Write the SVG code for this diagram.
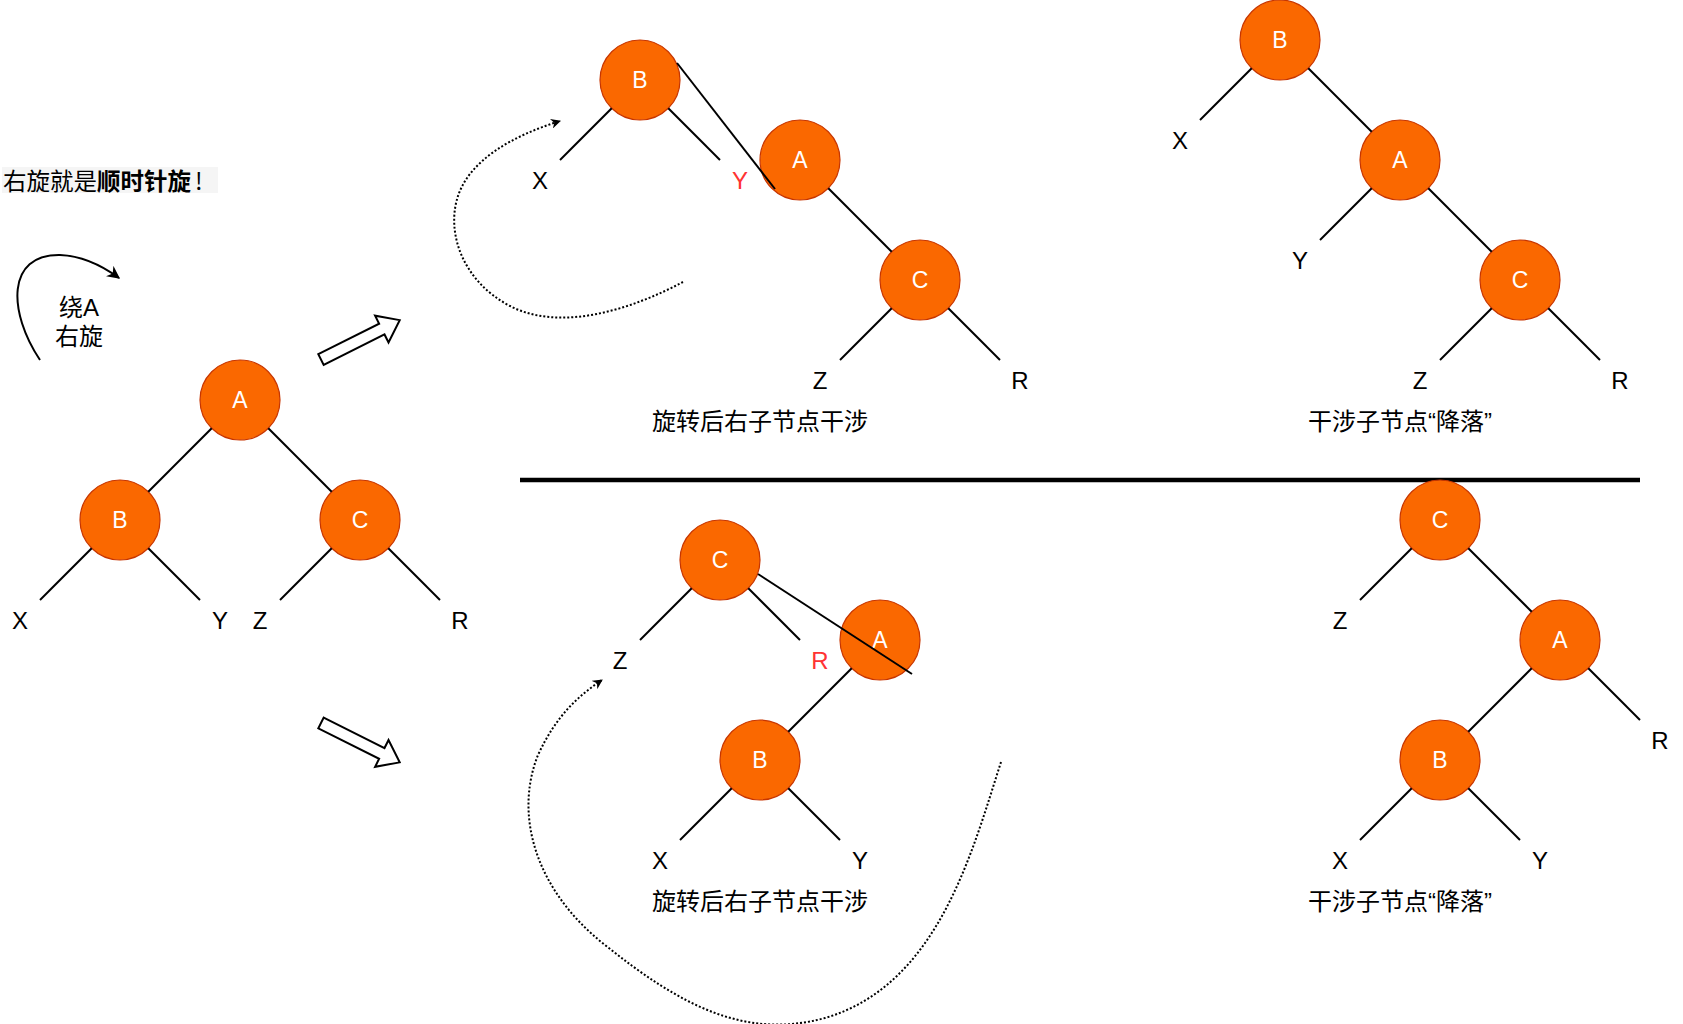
<svg xmlns="http://www.w3.org/2000/svg" width="1683" height="1024" viewBox="0 0 1683 1024">
<style>
.n{fill:#fa6800;stroke:#c73500;stroke-width:1.2}
.nt{font-family:"Liberation Sans",Arial,sans-serif;font-size:23px;fill:#ffffff;text-anchor:middle}
.lb{font-family:"Liberation Sans",Arial,sans-serif;font-size:24px;fill:#000000;text-anchor:middle}
.red{fill:#ff3333}
.cap{font-family:"Liberation Sans","Noto Sans CJK SC",sans-serif;font-size:24px;fill:#000000;text-anchor:middle}
.e{stroke:#000000;stroke-width:2;fill:none}
.dot{stroke:#000000;stroke-width:2;fill:none;stroke-dasharray:2 2}
.blk{fill:#ffffff;stroke:#000000;stroke-width:2;stroke-linejoin:miter}
</style>
<defs>
<marker id="ah" viewBox="0 0 10 10" refX="9" refY="5" markerWidth="10" markerHeight="10" markerUnits="userSpaceOnUse" orient="auto">
<path d="M0,0 L10,5 L0,10 L3,5 Z" fill="#000000"/>
</marker>
<marker id="ah2" viewBox="0 0 10 10" refX="9" refY="5" markerWidth="13" markerHeight="13" markerUnits="userSpaceOnUse" orient="auto">
<path d="M0,0 L10,5 L0,10 L3,5 Z" fill="#000000"/>
</marker>
</defs>

<g id="title">
<rect x="2" y="167" width="216" height="26" fill="#f5f5f5"/>
<text x="3" y="190" font-family="'Noto Sans CJK SC',sans-serif" font-size="23.5px" fill="#000000">右旋就是<tspan font-weight="bold">顺时针旋</tspan><tspan dx="4">!</tspan></text>
</g>

<g id="rotate-hint">
<path class="e" d="M40,360 C8,312 6,254 60,255 C85,256 104,267 119,278" marker-end="url(#ah2)"/>
<text class="cap" x="79" y="316" font-size="22px">绕A</text>
<text class="cap" x="79" y="345" font-size="22px">右旋</text>
</g>

<g id="arrow-up">
<polygon class="blk" transform="translate(321,359.5) rotate(-26.57)" points="0,-6 68,-6 68,-15 88,0 68,15 68,6 0,6"/>
</g>
<g id="arrow-down">
<polygon class="blk" transform="translate(321,723) rotate(26.57)" points="0,-6 68,-6 68,-15 88,0 68,15 68,6 0,6"/>
</g>

<g id="divider">
<line x1="520" y1="480" x2="1640" y2="480" stroke="#000000" stroke-width="4.5"/>
</g>

<!-- Left tree -->
<g id="L-A"><circle class="n" cx="240" cy="400" r="40"/><text class="nt" x="240" y="408">A</text></g>
<g id="L-B"><circle class="n" cx="120" cy="520" r="40"/><text class="nt" x="120" y="528">B</text></g>
<g id="L-C"><circle class="n" cx="360" cy="520" r="40"/><text class="nt" x="360" y="528">C</text></g>
<g id="L-labels">
<text class="lb" x="20" y="628.5">X</text><text class="lb" x="220" y="628.5">Y</text>
<text class="lb" x="260" y="628.5">Z</text><text class="lb" x="460" y="628.5">R</text>
</g>

<!-- Top middle tree -->
<g id="TM-B"><circle class="n" cx="640" cy="80" r="40"/><text class="nt" x="640" y="88">B</text></g>
<g id="TM-A"><circle class="n" cx="800" cy="160" r="40"/><text class="nt" x="800" y="168">A</text></g>
<g id="TM-C"><circle class="n" cx="920" cy="280" r="40"/><text class="nt" x="920" y="288">C</text></g>
<g id="TM-labels">
<text class="lb" x="540" y="188.5">X</text><text class="lb red" x="740" y="188.5">Y</text>
<text class="lb" x="820" y="388.5">Z</text><text class="lb" x="1020" y="388.5">R</text>
<text class="cap" x="760" y="430">旋转后右子节点干涉</text>
</g>

<!-- Top right tree -->
<g id="TR-B"><circle class="n" cx="1280" cy="40" r="40"/><text class="nt" x="1280" y="48">B</text></g>
<g id="TR-A"><circle class="n" cx="1400" cy="160" r="40"/><text class="nt" x="1400" y="168">A</text></g>
<g id="TR-C"><circle class="n" cx="1520" cy="280" r="40"/><text class="nt" x="1520" y="288">C</text></g>
<g id="TR-labels">
<text class="lb" x="1180" y="148.5">X</text><text class="lb" x="1300" y="268.5">Y</text>
<text class="lb" x="1420" y="388.5">Z</text><text class="lb" x="1620" y="388.5">R</text>
<text class="cap" x="1400" y="430">干涉子节点“降落”</text>
</g>

<!-- Bottom middle tree -->
<g id="BM-C"><circle class="n" cx="720" cy="560" r="40"/><text class="nt" x="720" y="568">C</text></g>
<g id="BM-A"><circle class="n" cx="880" cy="640" r="40"/><text class="nt" x="880" y="648">A</text></g>
<g id="BM-B"><circle class="n" cx="760" cy="760" r="40"/><text class="nt" x="760" y="768">B</text></g>
<g id="BM-labels">
<text class="lb" x="620" y="668.5">Z</text><text class="lb red" x="820" y="668.5">R</text>
<text class="lb" x="660" y="868.5">X</text><text class="lb" x="860" y="868.5">Y</text>
<text class="cap" x="760" y="910">旋转后右子节点干涉</text>
</g>

<!-- Bottom right tree -->
<g id="BR-C"><circle class="n" cx="1440" cy="520" r="40"/><text class="nt" x="1440" y="528">C</text></g>
<g id="BR-A"><circle class="n" cx="1560" cy="640" r="40"/><text class="nt" x="1560" y="648">A</text></g>
<g id="BR-B"><circle class="n" cx="1440" cy="760" r="40"/><text class="nt" x="1440" y="768">B</text></g>
<g id="BR-labels">
<text class="lb" x="1340" y="628.5">Z</text><text class="lb" x="1660" y="748.5">R</text>
<text class="lb" x="1340" y="868.5">X</text><text class="lb" x="1540" y="868.5">Y</text>
<text class="cap" x="1400" y="910">干涉子节点“降落”</text>
</g>

<g id="connectors">
<!-- left tree -->
<line class="e" x1="211.7" y1="428.3" x2="148.3" y2="491.7"/>
<line class="e" x1="268.3" y1="428.3" x2="331.7" y2="491.7"/>
<line class="e" x1="91.7" y1="548.3" x2="40" y2="600"/>
<line class="e" x1="148.3" y1="548.3" x2="200" y2="600"/>
<line class="e" x1="331.7" y1="548.3" x2="280" y2="600"/>
<line class="e" x1="388.3" y1="548.3" x2="440" y2="600"/>
<!-- top middle -->
<line class="e" x1="611.7" y1="108.3" x2="560" y2="160"/>
<line class="e" x1="668.3" y1="108.3" x2="720" y2="160"/>
<line class="e" x1="677" y1="63" x2="775" y2="189"/>
<line class="e" x1="828.3" y1="188.3" x2="891.7" y2="251.7"/>
<line class="e" x1="891.7" y1="308.3" x2="840" y2="360"/>
<line class="e" x1="948.3" y1="308.3" x2="1000" y2="360"/>
<!-- top right -->
<line class="e" x1="1251.7" y1="68.3" x2="1200" y2="120"/>
<line class="e" x1="1308.3" y1="68.3" x2="1371.7" y2="131.7"/>
<line class="e" x1="1371.7" y1="188.3" x2="1320" y2="240"/>
<line class="e" x1="1428.3" y1="188.3" x2="1491.7" y2="251.7"/>
<line class="e" x1="1491.7" y1="308.3" x2="1440" y2="360"/>
<line class="e" x1="1548.3" y1="308.3" x2="1600" y2="360"/>
<!-- bottom middle -->
<line class="e" x1="691.7" y1="588.3" x2="640" y2="640"/>
<line class="e" x1="748.3" y1="588.3" x2="800" y2="640"/>
<line class="e" x1="758" y1="574" x2="912" y2="674"/>
<line class="e" x1="851.7" y1="668.3" x2="788.3" y2="731.7"/>
<line class="e" x1="731.7" y1="788.3" x2="680" y2="840"/>
<line class="e" x1="788.3" y1="788.3" x2="840" y2="840"/>
<!-- bottom right -->
<line class="e" x1="1411.7" y1="548.3" x2="1360" y2="600"/>
<line class="e" x1="1468.3" y1="548.3" x2="1531.7" y2="611.7"/>
<line class="e" x1="1588.3" y1="668.3" x2="1640" y2="720"/>
<line class="e" x1="1531.7" y1="668.3" x2="1468.3" y2="731.7"/>
<line class="e" x1="1411.7" y1="788.3" x2="1360" y2="840"/>
<line class="e" x1="1468.3" y1="788.3" x2="1520" y2="840"/>
<!-- dotted rotation arcs -->
<path class="dot" d="M683,282 C630,310 560,332 510,306 C462,281 446,232 458,196 C470,160 512,136 560,121" marker-end="url(#ah)"/>
<path class="dot" d="M1001,762 C972,852 938,985 825,1018 C745,1040 680,1005 605,945 C535,890 514,815 538,755 C556,716 578,696 602,680" marker-end="url(#ah)"/>
</g>
</svg>
